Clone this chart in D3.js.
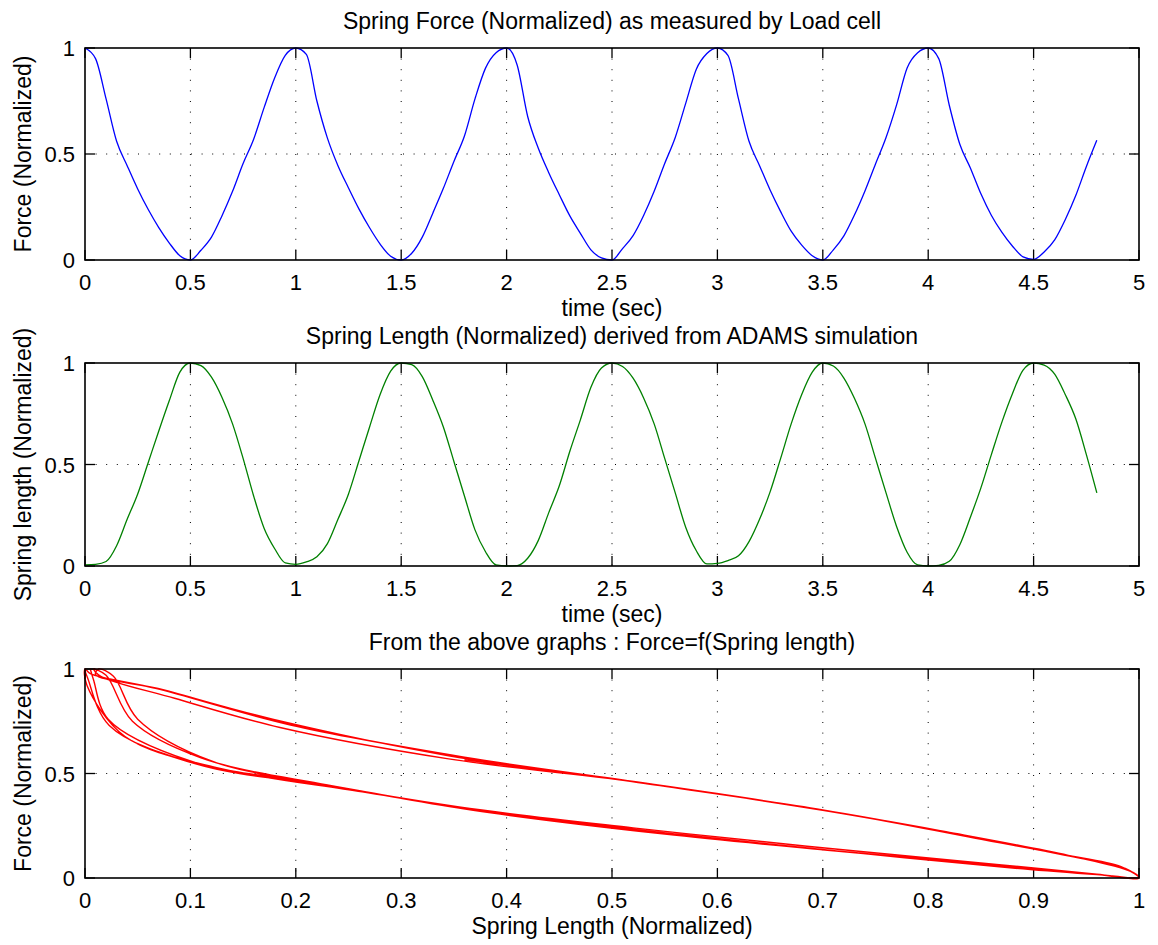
<!DOCTYPE html>
<html>
<head>
<meta charset="utf-8">
<script src="https://cdn.jsdelivr.net/npm/d3@7"></script>
<style>
  body { margin: 0; background: #fff; }
  text { font-family: "Liberation Sans", Arial, sans-serif; fill: #000; }
</style>
</head>
<body>
<script>
// sample times (sec), 0.05 s steps from 0 to 4.8
var time = d3.range(0, 97).map(function(i){ return +(i * 0.05).toFixed(2); });

// normalized spring force
var force = [
  1.00, 0.95, 0.76, 0.56, 0.445, 0.335, 0.238, 0.153, 0.08, 0.02,
  0.00, 0.046, 0.108, 0.209, 0.324, 0.455, 0.57, 0.72, 0.86, 0.965,
  1.00, 0.97, 0.75, 0.575, 0.445, 0.34, 0.24, 0.152, 0.075, 0.018,
  0.00, 0.032, 0.108, 0.221, 0.338, 0.465, 0.585, 0.76, 0.905, 0.978,
  1.00, 0.92, 0.677, 0.528, 0.412, 0.308, 0.208, 0.126, 0.048, 0.01,
  0.00, 0.054, 0.115, 0.21, 0.324, 0.455, 0.578, 0.74, 0.90, 0.974,
  1.00, 0.965, 0.76, 0.56, 0.445, 0.33, 0.228, 0.136, 0.07, 0.02,
  0.00, 0.048, 0.114, 0.212, 0.326, 0.453, 0.578, 0.732, 0.906, 0.978,
  1.00, 0.95, 0.73, 0.546, 0.434, 0.312, 0.21, 0.13, 0.065, 0.015,
  0.003, 0.038, 0.095, 0.19, 0.304, 0.44, 0.565
];

// normalized spring length from the ADAMS simulation
var length = [
  0.005, 0.008, 0.022, 0.10, 0.23, 0.355, 0.51, 0.665, 0.815, 0.955,
  1.00, 0.987, 0.93, 0.83, 0.70, 0.53, 0.345, 0.185, 0.085, 0.015,
  0.008, 0.02, 0.045, 0.11, 0.23, 0.355, 0.52, 0.685, 0.845, 0.96,
  1.00, 0.992, 0.933, 0.817, 0.685, 0.515, 0.345, 0.178, 0.07, 0.005,
  0.00, 0.002, 0.038, 0.125, 0.263, 0.395, 0.565, 0.72, 0.88, 0.975,
  1.00, 0.983, 0.925, 0.828, 0.70, 0.53, 0.36, 0.19, 0.075, 0.01,
  0.013, 0.027, 0.05, 0.12, 0.23, 0.365, 0.53, 0.70, 0.845, 0.955,
  1.00, 0.985, 0.926, 0.826, 0.70, 0.53, 0.36, 0.195, 0.068, 0.005,
  0.00, 0.003, 0.023, 0.105, 0.24, 0.385, 0.55, 0.71, 0.85, 0.965,
  1.00, 0.99, 0.945, 0.845, 0.725, 0.55, 0.36
];

var timeTicks = [0, 0.5, 1, 1.5, 2, 2.5, 3, 3.5, 4, 4.5, 5];
var normTicks = [0, 0.5, 1];
var lengthTicks = [0, 0.1, 0.2, 0.3, 0.4, 0.5, 0.6, 0.7, 0.8, 0.9, 1];

var W = 1158, H = 945;
var left = 85, right = 1139;

var svg = d3.select("body").append("svg")
  .attr("width", W)
  .attr("height", H);

// draws one MATLAB-like subplot box with inward ticks and dotted grid
function subplot(top, bottom, xDomain, xTicks, opts) {
  var x = d3.scaleLinear().domain(xDomain).range([left, right]);
  var y = d3.scaleLinear().domain([0, 1]).range([bottom, top]);
  var g = svg.append("g");

  // grid
  g.selectAll(".vgrid").data(xTicks.slice(1, -1)).enter().append("line")
    .attr("x1", function(d){ return x(d); }).attr("x2", function(d){ return x(d); })
    .attr("y1", top).attr("y2", bottom)
    .attr("stroke", "#000").attr("stroke-width", 1)
    .attr("stroke-dasharray", "1,9.6");
  g.selectAll(".hgrid").data([0.5]).enter().append("line")
    .attr("x1", left).attr("x2", right)
    .attr("y1", function(d){ return y(d); }).attr("y2", function(d){ return y(d); })
    .attr("stroke", "#000").attr("stroke-width", 1)
    .attr("stroke-dasharray", "1,9.6");

  // inward ticks on all four sides
  var tl = 10;
  xTicks.forEach(function(d) {
    g.append("line").attr("x1", x(d)).attr("x2", x(d)).attr("y1", bottom).attr("y2", bottom - tl)
      .attr("stroke", "#000").attr("stroke-width", 1.3);
    g.append("line").attr("x1", x(d)).attr("x2", x(d)).attr("y1", top).attr("y2", top + tl)
      .attr("stroke", "#000").attr("stroke-width", 1.3);
  });
  normTicks.forEach(function(d) {
    g.append("line").attr("x1", left).attr("x2", left + tl).attr("y1", y(d)).attr("y2", y(d))
      .attr("stroke", "#000").attr("stroke-width", 1.3);
    g.append("line").attr("x1", right).attr("x2", right - tl).attr("y1", y(d)).attr("y2", y(d))
      .attr("stroke", "#000").attr("stroke-width", 1.3);
  });

  // tick labels
  g.selectAll(".xl").data(xTicks).enter().append("text")
    .attr("x", function(d){ return x(d); })
    .attr("y", bottom + 30)
    .attr("text-anchor", "middle")
    .style("font-size", "22px")
    .text(function(d){ return String(d); });
  g.selectAll(".yl").data(normTicks).enter().append("text")
    .attr("x", left - 10)
    .attr("y", function(d){ return y(d) + 8; })
    .attr("text-anchor", "end")
    .style("font-size", "22px")
    .text(function(d){ return String(d); });

  // title and labels
  g.append("text").attr("x", (left + right) / 2).attr("y", top - 19)
    .attr("text-anchor", "middle").style("font-size", "23px").text(opts.title);
  g.append("text").attr("x", (left + right) / 2).attr("y", bottom + 56)
    .attr("text-anchor", "middle").style("font-size", "23px").text(opts.xlabel);
  g.append("text")
    .attr("transform", "translate(" + 31 + "," + ((top + bottom) / 2) + ") rotate(-90)")
    .attr("text-anchor", "middle").style("font-size", "23px").text(opts.ylabel);

  return { g: g, x: x, y: y, top: top, bottom: bottom };
}

function frame(p) {
  p.g.append("rect")
    .attr("x", left).attr("y", p.top)
    .attr("width", right - left).attr("height", p.bottom - p.top)
    .attr("fill", "none").attr("stroke", "#000").attr("stroke-width", 1.6);
}

// 1. force vs time
var p1 = subplot(48, 260, [0, 5], timeTicks, {
  title: "Spring Force (Normalized) as measured by Load cell",
  xlabel: "time (sec)",
  ylabel: "Force (Normalized)"
});
p1.g.append("path")
  .datum(time.map(function(t, i){ return [t, force[i]]; }))
  .attr("fill", "none").attr("stroke", "#0000ff").attr("stroke-width", 1.3)
  .attr("d", d3.line()
    .x(function(d){ return p1.x(d[0]); })
    .y(function(d){ return p1.y(d[1]); })
    .curve(d3.curveMonotoneX));
frame(p1);

// 2. spring length vs time
var p2 = subplot(363, 566, [0, 5], timeTicks, {
  title: "Spring Length (Normalized) derived from ADAMS simulation",
  xlabel: "time (sec)",
  ylabel: "Spring length (Normalized)"
});
p2.g.append("path")
  .datum(time.map(function(t, i){ return [t, length[i]]; }))
  .attr("fill", "none").attr("stroke", "#008000").attr("stroke-width", 1.3)
  .attr("d", d3.line()
    .x(function(d){ return p2.x(d[0]); })
    .y(function(d){ return p2.y(d[1]); })
    .curve(d3.curveMonotoneX));
frame(p2);

// 3. force as a function of spring length (pairs from the two series)
var p3 = subplot(669, 878, [0, 1], lengthTicks, {
  title: "From the above graphs : Force=f(Spring length)",
  xlabel: "Spring Length (Normalized)",
  ylabel: "Force (Normalized)"
});
p3.g.append("path")
  .datum(time.map(function(t, i){ return [length[i], force[i]]; }))
  .attr("fill", "none").attr("stroke", "#ff0000").attr("stroke-width", 1.4)
  .attr("d", d3.line()
    .x(function(d){ return p3.x(d[0]); })
    .y(function(d){ return p3.y(d[1]); })
    .curve(d3.curveCatmullRom.alpha(0.5)));
frame(p3);
</script>
</body>
</html>
